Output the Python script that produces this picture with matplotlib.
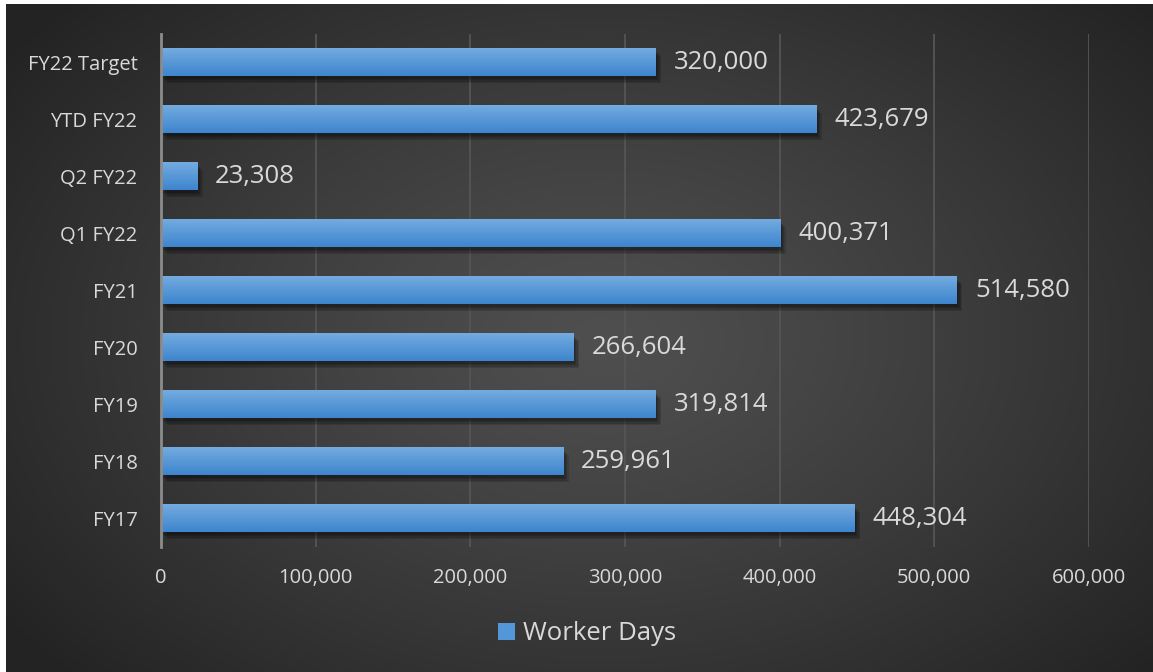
import numpy as np
import matplotlib
matplotlib.use('Agg')
import matplotlib.pyplot as plt
from matplotlib import patheffects

plt.rcParams['font.family'] = ['Open Sans', 'DejaVu Sans']

categories = ['FY17', 'FY18', 'FY19', 'FY20', 'FY21', 'Q1 FY22', 'Q2 FY22', 'YTD FY22', 'FY22 Target']
worker_days = [448304, 259961, 319814, 266604, 514580, 400371, 23308, 423679, 320000]
x_ticks = [0, 100000, 200000, 300000, 400000, 500000, 600000]
series_name = 'Worker Days'

TXT = '#d9d9d9'
W, H = 1153, 672
fig = plt.figure(figsize=(W / 100, H / 100), dpi=100, facecolor='white')

# dark radial background (white strip top/left like the source)
bg = fig.add_axes([6 / W, 0, 1 - 6 / W, 1 - 4 / H])
bg.axis('off')
yy, xx = np.mgrid[0:300, 0:520]
cx, cy = 270, 150
r = np.sqrt(((xx - cx) / 330.0) ** 2 + ((yy - cy) / 220.0) ** 2)
g = 0.31 - 0.17 * np.clip(r, 0, 1) ** 1.2
bg.imshow(np.dstack([g, g, g]), aspect='auto', extent=[0, 1, 0, 1], interpolation='bicubic')
bg.set_xlim(0, 1)
bg.set_ylim(0, 1)

ax = fig.add_axes([161 / W, 1 - 547 / H, (1089 - 161) / W, (547 - 34) / H])
ax.patch.set_alpha(0)

# soft shadow: a few stacked translucent shadows
shadow = [patheffects.SimplePatchShadow(offset=(1 + k, -2 - k), shadow_rgbFace='black', alpha=0.14)
          for k in range(4)]
y = np.arange(len(categories))
bars = ax.barh(y, worker_days, height=0.48, color='#5497d8', label=series_name, zorder=3,
               path_effects=shadow + [patheffects.Normal()])

# vertical gradient inside each bar (light on top, darker at bottom)
grad = np.linspace(0, 1, 64).reshape(-1, 1)
top = np.array([0x74, 0xab, 0xe0]) / 255
bot = np.array([0x3d, 0x85, 0xce]) / 255
grad_img = (top * (1 - grad[..., None]) + bot * grad[..., None])
for b in bars:
    x0, y0 = b.get_x(), b.get_y()
    ax.imshow(grad_img, extent=[x0, x0 + b.get_width(), y0, y0 + b.get_height()], aspect='auto',
              clip_path=b, zorder=4, interpolation='bilinear')

ax.bar_label(bars, labels=[f'{v:,}' for v in worker_days], padding=13, color=TXT, fontsize=18.5)

ax.set_xlim(0, 600000)
ax.set_ylim(-0.5, len(categories) - 0.5)
ax.set_xticks(x_ticks)
ax.set_xticklabels([f'{v:,}' for v in x_ticks])
ax.set_yticks(y)
ax.set_yticklabels(categories)
ax.tick_params(axis='both', length=0, colors=TXT, labelsize=14.5)
ax.tick_params(axis='x', pad=15)
ax.tick_params(axis='y', pad=17)
ax.grid(axis='x', color='#555555', linewidth=1.3, zorder=0)
for s in ['top', 'right', 'bottom']:
    ax.spines[s].set_visible(False)
ax.spines['left'].set_color('#8c8c8c')
ax.spines['left'].set_linewidth(2)
ax.spines['left'].set_zorder(5)

leg = fig.legend(handles=[bars], labels=[series_name], loc='center', bbox_to_anchor=(587 / W, 1 - 634 / H),
                 frameon=False, fontsize=18.5, handlelength=0.65, handleheight=0.65, handletextpad=0.3,
                 labelcolor=TXT)
for h in leg.legend_handles:
    h.set_path_effects([])

fig.savefig('out.png', dpi=100, facecolor='white')
